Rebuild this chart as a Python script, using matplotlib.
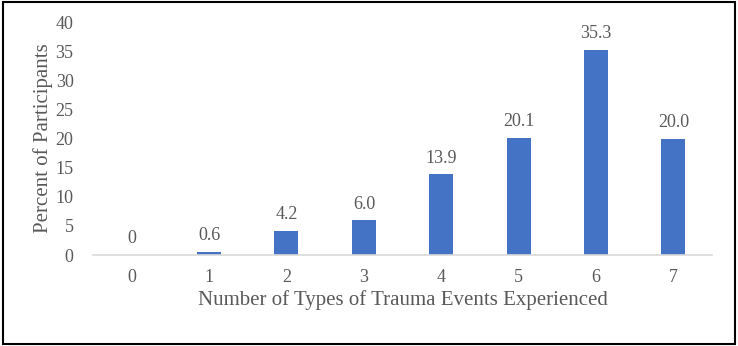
import matplotlib.pyplot as plt
import matplotlib.patches as mpl_patches

categories = ['0', '1', '2', '3', '4', '5', '6', '7']
percents = [0, 0.6, 4.2, 6.0, 13.9, 20.1, 35.3, 20.0]
value_labels = ['0', '0.6', '4.2', '6.0', '13.9', '20.1', '35.3', '20.0']
y_ticks = [0, 5, 10, 15, 20, 25, 30, 35, 40]

plt.rcParams['font.family'] = ['Liberation Serif', 'DejaVu Serif']
gray = '#595959'

fig = plt.figure(figsize=(7.38, 3.46), dpi=100)
ax = fig.add_axes([0.126, 0.263, 0.839, 0.673])

x = list(range(len(categories)))
ax.bar(x, percents, width=0.31, color='#4472C4', zorder=2)
for xi, v, lab in zip(x, percents, value_labels):
    ax.text(xi, v + 1.3, lab, ha='center', va='bottom', fontsize=13, color=gray)

ax.set_xlim(-0.5, 7.5)
ax.set_ylim(0, 40)
ax.set_yticks(y_ticks)
ax.set_xticks(x)
ax.set_xticklabels(categories)
ax.tick_params(axis='both', length=0, labelsize=13, colors=gray)
ax.tick_params(axis='x', pad=10)
ax.tick_params(axis='y', pad=14)
for s in ['top', 'right', 'left']:
    ax.spines[s].set_visible(False)
ax.spines['bottom'].set_color('#D9D9D9')
ax.spines['bottom'].set_linewidth(1.2)

ax.set_xlabel('Number of Types of Trauma Events Experienced', fontsize=15, color=gray, labelpad=3)
ax.set_ylabel('Percent of Participants', fontsize=15, color=gray, labelpad=2)

fig.patches.append(mpl_patches.Rectangle((0.004, 0.006), 0.992, 0.988, transform=fig.transFigure,
                                         fill=False, edgecolor='black', linewidth=1.5))

plt.savefig('out.png', dpi=100)
